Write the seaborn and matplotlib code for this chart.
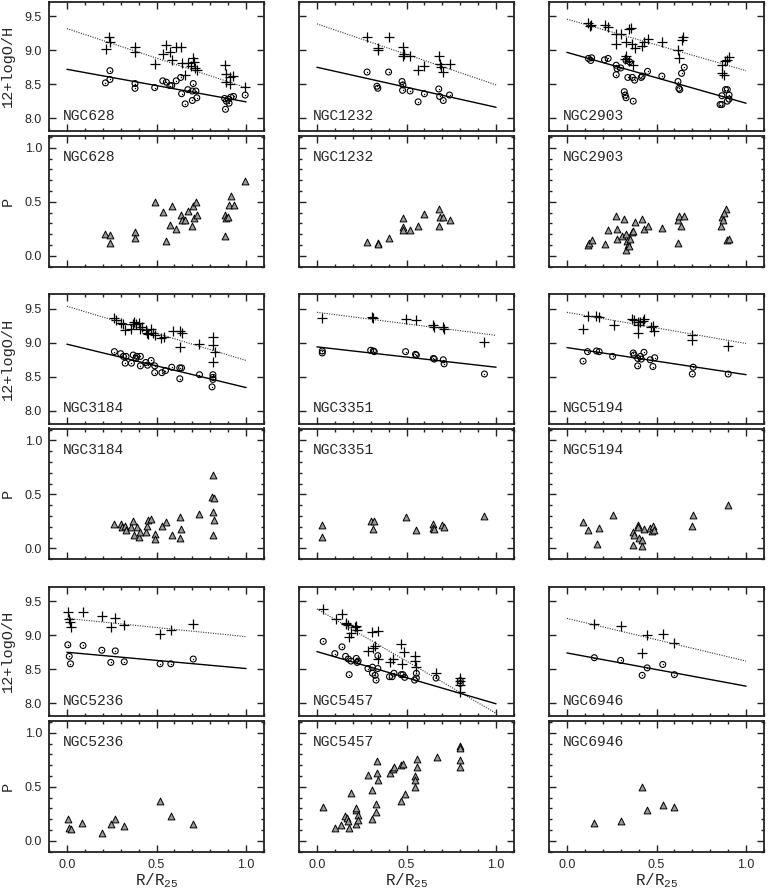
import matplotlib
matplotlib.use('Agg')
import matplotlib.pyplot as plt
import seaborn as sns
import pandas as pd
from matplotlib.ticker import MultipleLocator, NullLocator, FormatStrFormatter

# (R/R25, value)
n628_plus = [(0.22, 9.02), (0.235, 9.20), (0.24, 9.13), (0.38, 9.05), (0.38, 8.98), (0.49, 8.80), (0.535, 8.95),
             (0.555, 9.08), (0.575, 8.97), (0.585, 8.86), (0.61, 9.05), (0.635, 9.05), (0.64, 8.82), (0.66, 8.64),
             (0.675, 8.81), (0.69, 8.77), (0.705, 8.88), (0.71, 8.83), (0.715, 8.74), (0.725, 8.71), (0.885, 8.79),
             (0.89, 8.65), (0.89, 8.54), (0.91, 8.60), (0.91, 8.50), (0.925, 8.62), (0.995, 8.46)]
n628_circ = [(0.215, 8.52), (0.24, 8.70), (0.24, 8.57), (0.38, 8.51), (0.38, 8.44), (0.49, 8.45), (0.535, 8.55),
             (0.555, 8.53), (0.575, 8.48), (0.585, 8.48), (0.61, 8.55), (0.635, 8.60), (0.64, 8.36), (0.66, 8.21),
             (0.675, 8.42), (0.70, 8.40), (0.705, 8.51), (0.70, 8.26), (0.72, 8.40), (0.725, 8.30), (0.88, 8.29),
             (0.885, 8.13), (0.89, 8.25), (0.90, 8.28), (0.905, 8.22), (0.915, 8.31), (0.93, 8.32), (0.995, 8.34)]
n628_p = [(0.215, 0.20), (0.24, 0.19), (0.24, 0.12), (0.38, 0.22), (0.38, 0.17), (0.49, 0.50), (0.535, 0.41),
          (0.555, 0.14), (0.575, 0.29), (0.585, 0.46), (0.61, 0.25), (0.635, 0.38), (0.64, 0.33), (0.66, 0.33),
          (0.675, 0.42), (0.70, 0.28), (0.705, 0.46), (0.71, 0.35), (0.72, 0.50), (0.725, 0.38), (0.88, 0.38),
          (0.885, 0.18), (0.89, 0.35), (0.90, 0.36), (0.905, 0.47), (0.915, 0.55), (0.93, 0.47), (0.995, 0.69)]
n628_fit_plus = [9.32, 8.45]
n628_fit_circ = [8.72, 8.24]

n1232_plus = [(0.28, 9.19), (0.34, 9.03), (0.34, 9.00), (0.40, 9.19), (0.48, 9.05), (0.48, 8.92), (0.485, 8.95),
              (0.52, 8.91), (0.565, 8.71), (0.60, 8.77), (0.68, 8.92), (0.685, 8.80), (0.69, 8.75), (0.705, 8.68),
              (0.74, 8.80)]
n1232_circ = [(0.28, 8.68), (0.335, 8.47), (0.34, 8.44), (0.40, 8.68), (0.475, 8.54), (0.48, 8.49), (0.478, 8.41),
              (0.52, 8.40), (0.565, 8.24), (0.60, 8.36), (0.68, 8.43), (0.685, 8.32), (0.705, 8.26), (0.74, 8.34)]
n1232_p = [(0.28, 0.13), (0.34, 0.12), (0.34, 0.11), (0.40, 0.17), (0.48, 0.35), (0.478, 0.27), (0.48, 0.24),
           (0.52, 0.24), (0.565, 0.28), (0.60, 0.39), (0.68, 0.43), (0.685, 0.36), (0.68, 0.28), (0.705, 0.36),
           (0.74, 0.33)]
n1232_fit_plus = [9.39, 8.49]
n1232_fit_circ = [8.75, 8.16]

n2903_plus = [(0.12, 9.40), (0.135, 9.38), (0.13, 9.36), (0.21, 9.38), (0.23, 9.35), (0.275, 9.24), (0.30, 9.24),
              (0.345, 9.32), (0.355, 9.33), (0.275, 9.09), (0.33, 9.13), (0.365, 9.10), (0.38, 9.03), (0.42, 9.07),
              (0.43, 9.12), (0.455, 9.17), (0.53, 9.12), (0.33, 8.92), (0.325, 8.87), (0.345, 8.84), (0.37, 8.79),
              (0.62, 9.01), (0.625, 8.88), (0.64, 9.15), (0.65, 9.20), (0.865, 8.79), (0.865, 8.66), (0.875, 8.64),
              (0.885, 8.84), (0.895, 8.86), (0.905, 8.90)]
n2903_circ = [(0.12, 8.88), (0.133, 8.85), (0.138, 8.89), (0.21, 8.86), (0.23, 8.88), (0.275, 8.78), (0.28, 8.73),
              (0.275, 8.64), (0.30, 8.74), (0.33, 8.85), (0.35, 8.83), (0.34, 8.60), (0.365, 8.60), (0.378, 8.56),
              (0.415, 8.60), (0.42, 8.62), (0.45, 8.69), (0.53, 8.62), (0.32, 8.39), (0.325, 8.34), (0.33, 8.30),
              (0.37, 8.25), (0.62, 8.54), (0.625, 8.44), (0.63, 8.42), (0.64, 8.66), (0.655, 8.75), (0.855, 8.20),
              (0.865, 8.20), (0.865, 8.33), (0.885, 8.42), (0.895, 8.42), (0.905, 8.34), (0.905, 8.28), (0.895, 8.25)]
n2903_p = [(0.12, 0.10), (0.125, 0.12), (0.138, 0.15), (0.21, 0.11), (0.23, 0.24), (0.275, 0.37), (0.28, 0.25),
           (0.28, 0.16), (0.31, 0.18), (0.32, 0.34), (0.33, 0.20), (0.335, 0.14), (0.34, 0.10), (0.327, 0.05),
           (0.345, 0.09), (0.35, 0.16), (0.365, 0.22), (0.37, 0.23), (0.378, 0.31), (0.42, 0.34), (0.43, 0.25),
           (0.452, 0.28), (0.53, 0.26), (0.62, 0.33), (0.627, 0.37), (0.636, 0.28), (0.655, 0.37), (0.62, 0.12),
           (0.858, 0.28), (0.863, 0.36), (0.87, 0.33), (0.886, 0.43), (0.895, 0.15), (0.904, 0.16), (0.875, 0.40)]
n2903_fit_plus = [9.46, 8.70]
n2903_fit_circ = [8.97, 8.22]

n3184_plus = [(0.265, 9.36), (0.275, 9.34), (0.30, 9.29), (0.315, 9.28), (0.325, 9.19), (0.355, 9.20), (0.37, 9.28),
              (0.375, 9.30), (0.385, 9.28), (0.405, 9.29), (0.41, 9.21), (0.42, 9.23), (0.44, 9.19), (0.445, 9.14),
              (0.455, 9.13), (0.47, 9.20), (0.48, 9.15), (0.49, 9.12), (0.525, 9.07), (0.54, 9.09), (0.59, 9.17),
              (0.63, 9.17), (0.64, 9.14), (0.63, 8.94), (0.735, 8.98), (0.815, 9.08), (0.815, 8.97), (0.825, 8.86),
              (0.815, 8.71)]
n3184_circ = [(0.265, 8.87), (0.30, 8.84), (0.315, 8.80), (0.325, 8.70), (0.33, 8.80), (0.36, 8.70), (0.37, 8.82),
              (0.385, 8.77), (0.39, 8.80), (0.41, 8.80), (0.41, 8.66), (0.44, 8.71), (0.45, 8.67), (0.47, 8.74),
              (0.49, 8.66), (0.49, 8.56), (0.53, 8.56), (0.55, 8.59), (0.585, 8.64), (0.63, 8.63), (0.64, 8.63),
              (0.63, 8.47), (0.74, 8.53), (0.815, 8.53), (0.815, 8.49), (0.815, 8.46), (0.81, 8.35)]
n3184_p = [(0.265, 0.23), (0.30, 0.23), (0.305, 0.20), (0.325, 0.21), (0.33, 0.17), (0.36, 0.20), (0.37, 0.25),
           (0.375, 0.12), (0.39, 0.20), (0.405, 0.11), (0.41, 0.15), (0.44, 0.15), (0.445, 0.21), (0.45, 0.26),
           (0.47, 0.27), (0.49, 0.13), (0.49, 0.09), (0.53, 0.21), (0.555, 0.24), (0.585, 0.12), (0.63, 0.29),
           (0.635, 0.18), (0.63, 0.10), (0.74, 0.32), (0.815, 0.68), (0.81, 0.48), (0.82, 0.47), (0.815, 0.34),
           (0.82, 0.26), (0.815, 0.12)]
n3184_fit_plus = [9.54, 8.74]
n3184_fit_circ = [8.98, 8.34]

n3351_plus = [(0.03, 9.37), (0.305, 9.38), (0.315, 9.36), (0.495, 9.35), (0.555, 9.33), (0.65, 9.26), (0.655, 9.24),
              (0.705, 9.23), (0.71, 9.20), (0.935, 9.01)]
n3351_circ = [(0.03, 8.88), (0.03, 8.85), (0.30, 8.89), (0.315, 8.88), (0.32, 8.87), (0.495, 8.87), (0.55, 8.83),
              (0.555, 8.82), (0.65, 8.77), (0.655, 8.76), (0.705, 8.75), (0.71, 8.69), (0.935, 8.54)]
n3351_p = [(0.03, 0.22), (0.03, 0.11), (0.30, 0.25), (0.32, 0.25), (0.315, 0.18), (0.495, 0.29), (0.555, 0.17),
           (0.65, 0.23), (0.65, 0.19), (0.655, 0.18), (0.70, 0.22), (0.71, 0.20), (0.935, 0.30)]
n3351_fit_plus = [9.45, 9.11]
n3351_fit_circ = [8.94, 8.64]

n5194_plus = [(0.09, 9.21), (0.115, 9.39), (0.165, 9.40), (0.18, 9.38), (0.26, 9.26), (0.365, 9.35), (0.375, 9.34),
              (0.395, 9.31), (0.395, 9.26), (0.395, 9.15), (0.41, 9.30), (0.425, 9.32), (0.43, 9.35), (0.47, 9.24),
              (0.48, 9.25), (0.485, 9.17), (0.70, 9.12), (0.70, 9.04), (0.90, 8.95)]
n5194_circ = [(0.09, 8.73), (0.115, 8.87), (0.165, 8.88), (0.18, 8.87), (0.255, 8.80), (0.37, 8.85), (0.375, 8.82),
              (0.395, 8.77), (0.395, 8.66), (0.41, 8.80), (0.415, 8.76), (0.43, 8.86), (0.465, 8.75), (0.48, 8.65),
              (0.49, 8.78), (0.705, 8.64), (0.70, 8.54), (0.90, 8.54)]
n5194_p = [(0.09, 0.24), (0.115, 0.17), (0.17, 0.04), (0.18, 0.19), (0.255, 0.31), (0.37, 0.15), (0.375, 0.12),
           (0.37, 0.03), (0.395, 0.22), (0.395, 0.20), (0.40, 0.10), (0.42, 0.08), (0.42, 0.02), (0.43, 0.18),
           (0.465, 0.19), (0.475, 0.16), (0.48, 0.21), (0.485, 0.17), (0.70, 0.21), (0.705, 0.31), (0.90, 0.40)]
n5194_fit_plus = [9.45, 8.99]
n5194_fit_circ = [8.93, 8.53]

n5236_plus = [(0.005, 9.35), (0.013, 9.24), (0.02, 9.20), (0.025, 9.12), (0.09, 9.34), (0.195, 9.29), (0.245, 9.12),
              (0.27, 9.25), (0.32, 9.15), (0.52, 9.02), (0.58, 9.08), (0.705, 9.17)]
n5236_circ = [(0.005, 8.86), (0.013, 8.69), (0.02, 8.58), (0.09, 8.85), (0.195, 8.78), (0.245, 8.60), (0.27, 8.77),
              (0.32, 8.61), (0.52, 8.58), (0.58, 8.58), (0.705, 8.65)]
n5236_p = [(0.005, 0.20), (0.013, 0.12), (0.025, 0.11), (0.085, 0.17), (0.195, 0.07), (0.245, 0.16), (0.27, 0.20),
           (0.32, 0.14), (0.52, 0.37), (0.58, 0.23), (0.705, 0.16)]
n5236_fit_plus = [9.25, 8.98]
n5236_fit_circ = [8.75, 8.51]

n5457_plus = [(0.035, 9.39), (0.105, 9.24), (0.14, 9.31), (0.16, 9.18), (0.165, 9.17), (0.175, 9.15), (0.18, 8.98),
              (0.19, 9.03), (0.215, 9.12), (0.22, 9.14), (0.225, 9.08), (0.285, 8.77), (0.31, 9.05), (0.315, 8.81),
              (0.325, 8.84), (0.34, 9.06), (0.34, 8.65), (0.41, 8.60), (0.425, 8.65), (0.47, 8.87), (0.475, 8.57),
              (0.485, 8.76), (0.545, 8.69), (0.545, 8.62), (0.555, 8.54), (0.665, 8.44), (0.80, 8.37), (0.80, 8.32),
              (0.80, 8.27), (0.80, 8.16)]
n5457_circ = [(0.035, 8.91), (0.10, 8.73), (0.14, 8.83), (0.16, 8.69), (0.175, 8.65), (0.18, 8.42), (0.19, 8.62),
              (0.22, 8.66), (0.225, 8.60), (0.23, 8.62), (0.285, 8.51), (0.31, 8.53), (0.31, 8.44), (0.325, 8.41),
              (0.33, 8.34), (0.34, 8.51), (0.34, 8.70), (0.405, 8.39), (0.42, 8.39), (0.43, 8.44), (0.47, 8.42),
              (0.48, 8.42), (0.49, 8.38), (0.545, 8.34), (0.555, 8.37), (0.555, 8.44), (0.665, 8.37), (0.80, 8.33),
              (0.80, 8.29)]
n5457_p = [(0.035, 0.31), (0.10, 0.12), (0.137, 0.15), (0.157, 0.23), (0.166, 0.21), (0.173, 0.18), (0.179, 0.12),
           (0.188, 0.44), (0.216, 0.29), (0.22, 0.30), (0.22, 0.16), (0.229, 0.24), (0.23, 0.19), (0.284, 0.61),
           (0.308, 0.47), (0.308, 0.20), (0.327, 0.34), (0.33, 0.27), (0.336, 0.74), (0.336, 0.63), (0.34, 0.56),
           (0.41, 0.63), (0.424, 0.67), (0.428, 0.68), (0.468, 0.37), (0.47, 0.70), (0.48, 0.71), (0.49, 0.43),
           (0.548, 0.60), (0.548, 0.56), (0.548, 0.50), (0.557, 0.76), (0.557, 0.68), (0.668, 0.78), (0.80, 0.88),
           (0.80, 0.86), (0.80, 0.75), (0.80, 0.68)]
n5457_fit_plus = [9.39, 7.85]
n5457_fit_circ = [8.76, 7.99]

n6946_plus = [(0.153, 9.17), (0.30, 9.14), (0.448, 9.00), (0.42, 8.74), (0.535, 9.02), (0.60, 8.88)]
n6946_circ = [(0.153, 8.67), (0.30, 8.63), (0.42, 8.41), (0.448, 8.52), (0.535, 8.57), (0.60, 8.42)]
n6946_p = [(0.153, 0.17), (0.30, 0.18), (0.42, 0.50), (0.448, 0.29), (0.535, 0.33), (0.60, 0.31)]
n6946_fit_plus = [9.25, 8.62]
n6946_fit_circ = [8.74, 8.25]

galaxies = ['NGC628', 'NGC1232', 'NGC2903', 'NGC3184', 'NGC3351', 'NGC5194', 'NGC5236', 'NGC5457', 'NGC6946']
panels = {
    'NGC628': (n628_plus, n628_circ, n628_p, n628_fit_plus, n628_fit_circ),
    'NGC1232': (n1232_plus, n1232_circ, n1232_p, n1232_fit_plus, n1232_fit_circ),
    'NGC2903': (n2903_plus, n2903_circ, n2903_p, n2903_fit_plus, n2903_fit_circ),
    'NGC3184': (n3184_plus, n3184_circ, n3184_p, n3184_fit_plus, n3184_fit_circ),
    'NGC3351': (n3351_plus, n3351_circ, n3351_p, n3351_fit_plus, n3351_fit_circ),
    'NGC5194': (n5194_plus, n5194_circ, n5194_p, n5194_fit_plus, n5194_fit_circ),
    'NGC5236': (n5236_plus, n5236_circ, n5236_p, n5236_fit_plus, n5236_fit_circ),
    'NGC5457': (n5457_plus, n5457_circ, n5457_p, n5457_fit_plus, n5457_fit_circ),
    'NGC6946': (n6946_plus, n6946_circ, n6946_p, n6946_fit_plus, n6946_fit_circ),
}
fit_r = [0.0, 1.0]

sns.set_style('ticks')
plt.rcParams['font.family'] = ['Liberation Sans', 'DejaVu Sans']
plt.rcParams['mathtext.default'] = 'regular'
MONO = 'Liberation Mono'

W, H = 768, 893
fig = plt.figure(figsize=(W / 100, H / 100), dpi=100)
lefts = [49, 299, 549]


def new_ax(left, top, h):
    return fig.add_axes([left / W, 1 - (top + h) / H, 215 / W, h / H])


def style(ax, ylim, ymaj, ymin):
    ax.set_xlim(-0.1, 1.1)
    ax.set_ylim(*ylim)
    ax.xaxis.set_major_locator(MultipleLocator(0.5))
    ax.xaxis.set_minor_locator(MultipleLocator(0.1))
    ax.yaxis.set_major_locator(MultipleLocator(ymaj))
    ax.yaxis.set_minor_locator(MultipleLocator(ymin) if ymin else NullLocator())
    ax.xaxis.set_major_formatter(FormatStrFormatter('%.1f'))
    ax.yaxis.set_major_formatter(FormatStrFormatter('%.1f'))
    ax.tick_params(which='both', direction='in', top=True, right=True, width=1.0,
                   labelsize=9, pad=5, color='#222222')
    ax.tick_params(which='major', length=5)
    ax.tick_params(which='minor', length=2.5)
    for s in ax.spines.values():
        s.set_linewidth(1.3)
        s.set_color('#222222')
    ax.set_xlabel('')
    ax.set_ylabel('')


for i, name in enumerate(galaxies):
    row, col = divmod(i, 3)
    plus, circ, pol, fit_hi, fit_lo = panels[name]
    top = 1.5 + 292.5 * row
    ax1 = new_ax(lefts[col], top, 129.5)
    ax2 = new_ax(lefts[col], top + 134.5, 130.7)

    dp = pd.DataFrame(plus, columns=['r', 'oh'])
    dc = pd.DataFrame(circ, columns=['r', 'oh'])
    dt = pd.DataFrame(pol, columns=['r', 'p'])

    sns.lineplot(x=fit_r, y=fit_hi, ax=ax1, color='#333333', lw=0.8, linestyle=(0, (1, 1.2)))
    sns.lineplot(x=fit_r, y=fit_lo, ax=ax1, color='black', lw=1.0)
    sns.scatterplot(data=dp, x='r', y='oh', ax=ax1, marker='+', s=45, color='black', linewidth=0.9)
    sns.scatterplot(data=dc, x='r', y='oh', ax=ax1, marker='o', s=18, facecolor='none',
                    edgecolor='black', linewidth=0.8)
    sns.scatterplot(data=dc, x='r', y='oh', ax=ax1, marker='o', s=1, color='black', linewidth=0)
    sns.scatterplot(data=dt, x='r', y='p', ax=ax2, marker='^', s=24, color='#9a9a9a',
                    edgecolor='black', linewidth=0.7)

    style(ax1, (7.81, 9.72), 0.5, None)
    style(ax2, (-0.1, 1.11), 0.5, 0.1)
    ax1.tick_params(labelbottom=False)
    if row < 2:
        ax2.tick_params(labelbottom=False)
    else:
        ax2.set_xlabel('R/R$_{25}$', family=MONO, fontsize=11.5)
        ax2.xaxis.set_label_coords(0.5, -0.15)
    if col > 0:
        ax1.tick_params(labelleft=False)
        ax2.tick_params(labelleft=False)
    else:
        ax1.set_ylabel('12+logO/H', family=MONO, fontsize=11, va='center')
        ax2.set_ylabel('P', family=MONO, fontsize=11, va='center')
        ax1.yaxis.set_label_coords(-0.19, 0.5)
        ax2.yaxis.set_label_coords(-0.19, 0.5)

    ax1.text(-0.025, 7.93, name, family=MONO, fontsize=10.5, va='bottom', ha='left')
    ax2.text(-0.025, 0.98, name, family=MONO, fontsize=10.5, va='top', ha='left')

fig.savefig('out.png', dpi=100)
